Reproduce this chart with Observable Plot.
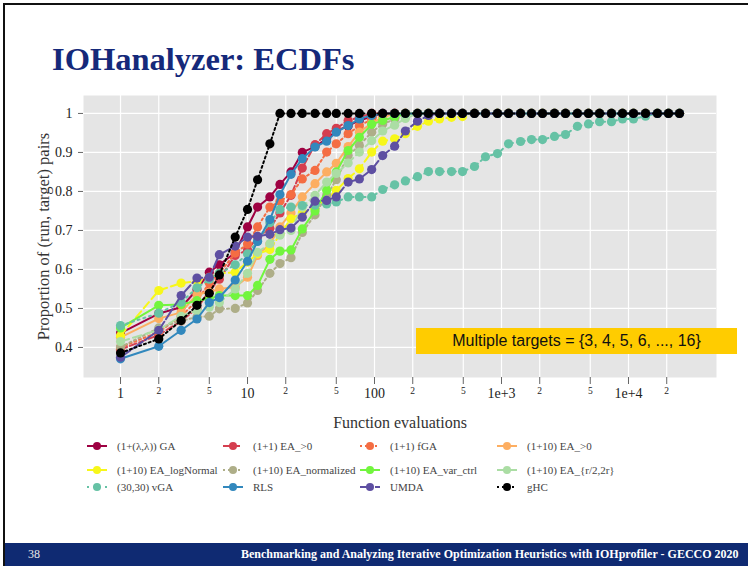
<!DOCTYPE html>
<html>
<head>
<meta charset="utf-8">
<script src="https://cdn.jsdelivr.net/npm/d3@7"></script>
<script src="https://cdn.jsdelivr.net/npm/@observablehq/plot@0.6"></script>
<style>
html, body { margin: 0; padding: 0; background: #fff; }
#slide { position: relative; width: 748px; height: 566px; overflow: hidden; background: #fff; font-family: "Liberation Serif", "DejaVu Serif", serif; }
#frame { position: absolute; left: 3px; top: 3px; width: 800px; height: 600px; border-left: 2px solid #111; border-top: 2px solid #111; }
#title { position: absolute; left: 52px; top: 42px; font-size: 32.5px; line-height: 34px; font-weight: bold; color: #15297a; white-space: nowrap; }
#chart { position: absolute; left: 0; top: 85px; }
#note { position: absolute; left: 416px; top: 328px; width: 321px; height: 26px; background: #ffcc00; font-family: "Liberation Sans", Arial, sans-serif; font-size: 16px; line-height: 26px; text-align: center; color: #111; }
#legend { position: absolute; left: 0; top: 0; width: 748px; height: 566px; pointer-events: none; }
.item { position: absolute; height: 16px; display: flex; align-items: center; font-size: 11px; color: #444; white-space: nowrap; }
.item svg { margin-right: 10px; overflow: visible; }
#footer { position: absolute; left: 5px; top: 543px; width: 760px; height: 23px; background: #0f2a72; color: #fff; }
#pagenum { position: absolute; left: 23px; top: 0; line-height: 23px; font-size: 12px; color: #e8e8e8; }
#foottext { position: absolute; left: 236px; top: 0; line-height: 23px; font-size: 12px; font-weight: bold; white-space: nowrap; color: #fff; }
</style>
</head>
<body>
<div id="slide">
  <div id="frame"></div>
  <div id="title">IOHanalyzer: ECDFs</div>
  <div id="chart"></div>
  <div id="note">Multiple targets = {3, 4, 5, 6, ..., 16}</div>
  <div id="legend"></div>
  <div id="footer">
    <div id="pagenum">38</div>
    <div id="foottext">Benchmarking and Analyzing Iterative Optimization Heuristics with IOHprofiler - GECCO 2020</div>
  </div>
</div>
<script>
// ---------------- data ----------------
const evaluations = [1,2,3,4,5,6,8,10,12,15,18,22,27,34,42,50,62,76,95,116,144,175,218,266,325,404,493,613,748,930,1136,1413,1723,2103,2614,3190,3963,4842,5915,7345,8970,10950,13620,16910,20650,25210];

const algorithms = ["(1+(λ,λ)) GA","(1+1) EA_>0","(1+1) fGA","(1+10) EA_>0","(1+10) EA_logNormal","(1+10) EA_normalized","(1+10) EA_var_ctrl","(1+10) EA_{r/2,2r}","(30,30) vGA","RLS","UMDA","gHC"];

const ga = [0.437,0.487,0.503,0.548,0.593,0.612,0.643,0.709,0.760,0.786,0.818,0.850,0.900,0.915,0.935,0.955,0.968,0.982,0.992, 1,1,1,1,1,1,1,1,1,1, 1,1,1,1,1,1,1,1,1,1, 1,1,1,1,1,1,1];
const ea1 = [0.395,0.432,0.468,0.500,0.545,0.575,0.636,0.650,0.683,0.705,0.745,0.790,0.860,0.920,0.948,0.962,0.982,0.990, 1,1,1,1,1,1,1,1,1,1, 1,1,1,1,1,1,1,1,1,1, 1,1,1,1,1,1,1,1];
const fga = [0.400,0.440,0.480,0.520,0.565,0.590,0.642,0.665,0.709,0.760,0.775,0.792,0.832,0.854,0.901,0.922,0.948,0.968,0.985,0.995, 1,1,1,1,1,1,1,1,1,1, 1,1,1,1,1,1,1,1,1,1, 1,1,1,1,1,1];
const ea10 = [0.426,0.474,0.490,0.536,0.542,0.550,0.555,0.580,0.636,0.665,0.709,0.745,0.786,0.820,0.850,0.872,0.915,0.952,0.975,0.990, 1,1,1,1,1,1,1,1,1,1, 1,1,1,1,1,1,1,1,1,1, 1,1,1,1,1,1];
const logNormal = [0.430,0.546,0.565,0.570,0.580,0.590,0.593,0.619,0.640,0.651,0.690,0.730,0.745,0.760,0.780,0.803,0.833,0.858,0.901,0.929,0.935,0.948,0.967,0.980,0.986,0.990,0.992, 1,1,1,1,1,1,1,1,1,1, 1,1,1,1,1,1,1,1,1];
const normalized = [0.401,0.450,0.468,0.478,0.480,0.499,0.500,0.514,0.546,0.590,0.615,0.630,0.695,0.740,0.790,0.830,0.892,0.918,0.952,0.973,0.985,0.995, 1,1,1,1,1,1,1,1,1,1, 1,1,1,1,1,1,1,1,1,1, 1,1,1,1];
const varCtrl = [0.450,0.508,0.510,0.520,0.525,0.533,0.533,0.533,0.559,0.626,0.647,0.650,0.704,0.750,0.803,0.850,0.905,0.939,0.972,0.982,0.991, 1,1,1,1,1,1,1,1,1,1, 1,1,1,1,1,1,1,1,1,1, 1,1,1,1,1];
const r2r = [0.415,0.445,0.480,0.495,0.503,0.515,0.550,0.590,0.644,0.666,0.688,0.700,0.760,0.790,0.824,0.846,0.873,0.901,0.930,0.955,0.970,0.987, 1,1,1,1,1,1,1,1,1,1, 1,1,1,1,1,1,1,1,1,1, 1,1,1,1];
const vga = [0.456,0.488,0.516,0.553,0.575,0.590,0.612,0.640,0.673,0.720,0.754,0.760,0.764,0.765,0.768,0.773,0.786,0.786,0.786,0.805,0.817,0.827,0.838,0.851,0.851,0.851,0.851,0.864,0.889,0.897,0.922,0.928,0.933,0.933,0.941,0.946,0.967,0.973,0.979,0.979,0.986,0.986,0.993,1,1,1];
const rls = [0.371,0.403,0.444,0.473,0.515,0.528,0.573,0.621,0.672,0.728,0.792,0.844,0.884,0.914,0.929,0.952,0.969,0.986,0.995, 1,1,1,1,1,1,1,1,1,1, 1,1,1,1,1,1,1,1,1,1, 1,1,1,1,1,1,1];
const umda = [0.375,0.444,0.533,0.578,0.580,0.638,0.660,0.683,0.685,0.690,0.702,0.706,0.734,0.775,0.777,0.786,0.824,0.832,0.856,0.892,0.916,0.955,0.980,0.995, 1,1,1,1,1,1,1,1,1,1, 1,1,1,1,1,1,1,1,1,1, 1,1];
const ghc = [0.386,0.422,0.469,0.508,0.539,0.586,0.683,0.754,0.830,0.922, 1,1,1,1,1,1,1,1,1,1, 1,1,1,1,1,1,1,1,1,1, 1,1,1,1,1,1,1,1,1,1, 1,1,1,1,1,1];

const seriesValues = [ga, ea1, fga, ea10, logNormal, normalized, varCtrl, r2r, vga, rls, umda, ghc];

const yTicks = [0.4, 0.5, 0.6, 0.7, 0.8, 0.9, 1];
const yTickLabels = ["0.4","0.5","0.6","0.7","0.8","0.9","1"];
const xMajorTicks = [1, 10, 100, 1000, 10000];
const xMajorLabels = ["1","10","100","1e+3","1e+4"];
const xMinorTicks = [2, 5, 20, 50, 200, 500, 2000, 5000, 20000];
const xMinorLabels = ["2","5","2","5","2","5","2","5","2"];

// ---------------- styles ----------------
const palette = ["#9e0142","#d53e4f","#f46d43","#fdae61","#f7f71a","#aeae88","#72f53e","#abdda4","#66c2a5","#3288bd","#5e4fa2","#000000"];
const dashes = [null, "7,3", "2,3", null, "8,4", "2,3", null, "9,4", "2,4", null, "12,3", "2,3"];

// ---------------- table ----------------
const rows = algorithms.flatMap((name, i) =>
  evaluations.slice(0, seriesValues[i].length).map((x, j) => ({name, x, y: seriesValues[i][j]}))
);

const seriesMarks = algorithms.flatMap((name, i) => {
  const d = rows.filter(r => r.name === name);
  return [
    Plot.line(d, {x: "x", y: "y", stroke: "name", strokeWidth: 2, strokeDasharray: dashes[i] || undefined}),
    Plot.dot(d, {x: "x", y: "y", fill: "name", r: 4.6})
  ];
});

const chart = Plot.plot({
  width: 748,
  height: 355,
  marginLeft: 83,
  marginRight: 32,
  marginTop: 10,
  marginBottom: 63,
  style: {fontFamily: "Liberation Serif, serif", fontSize: "14px", color: "#222", background: "transparent", overflow: "visible"},
  x: {type: "log", domain: [0.511, 49320]},
  y: {domain: [0.323, 1.046]},
  color: {domain: algorithms, range: palette},
  marks: [
    Plot.frame({fill: "#e5e5e5", stroke: null}),
    Plot.gridX([...xMajorTicks, ...xMinorTicks], {stroke: "#ffffff", strokeOpacity: 1, strokeWidth: 1.2}),
    Plot.gridY(yTicks, {stroke: "#ffffff", strokeOpacity: 1, strokeWidth: 1.2}),
    Plot.axisY(yTicks, {tickFormat: d => yTickLabels[yTicks.indexOf(d)], fontSize: 14, tickSize: 5, tickPadding: 6, stroke: "#666", label: null}),
    Plot.axisX(xMajorTicks, {tickFormat: () => "", tickSize: 7, stroke: "#666", label: null}),
    Plot.axisX(xMinorTicks, {tickFormat: () => "", tickSize: 7, stroke: "#666", label: null}),
    Plot.text(xMajorTicks, {x: d => d, text: (d, i) => xMajorLabels[i], frameAnchor: "bottom", dy: 20, fontSize: 14, fill: "#222"}),
    Plot.text(xMinorTicks, {x: d => d, text: (d, i) => xMinorLabels[i], frameAnchor: "bottom", dy: 16, fontSize: 9.5, fill: "#222"}),
    Plot.text(["Function evaluations"], {frameAnchor: "bottom", dy: 50, fontSize: 16, fill: "#333", textAnchor: "middle"}),
    Plot.text(["Proportion of (run, target) pairs"], {frameAnchor: "left", dx: -40, rotate: -90, fontSize: 16.5, fill: "#333", textAnchor: "middle"}),
    ...seriesMarks
  ]
});
document.getElementById("chart").appendChild(chart);

// ---------------- legend ----------------
const legendCols = [87, 223, 360, 497];
const legendRows = [446, 470, 487];
const legend = document.getElementById("legend");
algorithms.forEach((name, i) => {
  const col = i % 4, row = Math.floor(i / 4);
  const item = document.createElement("div");
  item.className = "item";
  item.style.left = legendCols[col] + "px";
  item.style.top = (legendRows[row] - 8) + "px";
  const ns = "http://www.w3.org/2000/svg";
  const svg = document.createElementNS(ns, "svg");
  svg.setAttribute("width", 20); svg.setAttribute("height", 10);
  const ln = document.createElementNS(ns, "line");
  ln.setAttribute("x1", 0); ln.setAttribute("x2", 20); ln.setAttribute("y1", 5); ln.setAttribute("y2", 5);
  ln.setAttribute("stroke", palette[i]); ln.setAttribute("stroke-width", 2);
  if (dashes[i]) ln.setAttribute("stroke-dasharray", dashes[i]);
  const c = document.createElementNS(ns, "circle");
  c.setAttribute("cx", 10); c.setAttribute("cy", 5); c.setAttribute("r", 4); c.setAttribute("fill", palette[i]);
  svg.appendChild(ln); svg.appendChild(c);
  item.appendChild(svg);
  const t = document.createElement("span");
  t.textContent = name;
  item.appendChild(t);
  legend.appendChild(item);
});
</script>
</body>
</html>
